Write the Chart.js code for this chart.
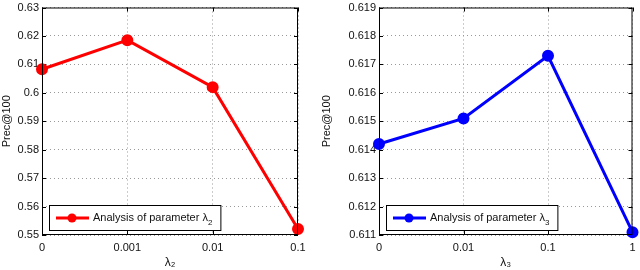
<!DOCTYPE html>
<html>
<head>
<meta charset="utf-8">
<script src="https://cdn.jsdelivr.net/npm/chart.js@4"></script>
<style>
  html, body { margin: 0; padding: 0; background: #fff; }
  .wrap { position: absolute; top: 0; width: 320px; height: 270px; }
</style>
</head>
<body>
<div class="wrap" style="left:0"><canvas id="chartL2"></canvas></div>
<div class="wrap" style="left:320px"><canvas id="chartL3"></canvas></div>
<script>
// λ2 sweep
const lambda2Labels = ["0", "0.001", "0.01", "0.1"];
const lambda2Prec = [0.6083, 0.6185, 0.6020, 0.5521];
// λ3 sweep
const lambda3Labels = ["0", "0.01", "0.1", "1"];
const lambda3Prec = [0.6142, 0.6151, 0.6173, 0.6111];

const FONT = "'Liberation Sans', Arial, sans-serif";

// matlab-style frame, inward ticks + legend inside the plot
const framePlugin = {
  id: "frame",
  beforeDatasetsDraw(chart) {
    const ctx = chart.ctx, a = chart.chartArea;
    const xs = chart.scales.x, ys = chart.scales.y;
    ctx.save();
    ctx.strokeStyle = "#000";
    ctx.lineWidth = 1;
    ctx.beginPath();
    xs.ticks.forEach((t, i) => {
      const px = Math.round(xs.getPixelForTick(i)) + 0.5;
      ctx.moveTo(px, a.bottom); ctx.lineTo(px, a.bottom - 4);
      ctx.moveTo(px, a.top); ctx.lineTo(px, a.top + 4);
    });
    ys.ticks.forEach((t, i) => {
      const py = Math.round(ys.getPixelForTick(i)) + 0.5;
      ctx.moveTo(a.left, py); ctx.lineTo(a.left + 4, py);
      ctx.moveTo(a.right, py); ctx.lineTo(a.right - 4, py);
    });
    ctx.stroke();
    ctx.restore();
  },
  afterDraw(chart, args, opts) {
    const ctx = chart.ctx, a = chart.chartArea;
    ctx.save();
    ctx.strokeStyle = "#000";
    ctx.lineWidth = 1;
    ctx.strokeRect(a.left + 0.5, a.top + 0.5, a.right - a.left - 1, a.bottom - a.top - 1);

    // legend box
    const x = a.left + opts.dx, y = a.bottom - 30, h = 25;
    ctx.font = "11px " + FONT;
    const main = "Analysis of parameter \u03bb";
    const w1 = ctx.measureText(main).width;
    ctx.font = "8px " + FONT;
    const w2 = ctx.measureText(opts.sub).width;
    const w = 44 + w1 + w2 + 8;
    ctx.fillStyle = "#fff";
    ctx.fillRect(x, y, w, h);
    ctx.strokeRect(x + 0.5, y + 0.5, w, h);
    const cy = y + h / 2 + 0.5;
    ctx.strokeStyle = opts.color;
    ctx.lineWidth = 3;
    ctx.beginPath();
    ctx.moveTo(x + 7, cy);
    ctx.lineTo(x + 40, cy);
    ctx.stroke();
    ctx.fillStyle = opts.color;
    ctx.beginPath();
    ctx.arc(x + 23, cy, 4.5, 0, Math.PI * 2);
    ctx.fill();
    ctx.fillStyle = "#111";
    ctx.textBaseline = "middle";
    ctx.font = "11px " + FONT;
    ctx.fillText(main, x + 44, cy);
    ctx.font = "8px " + FONT;
    ctx.fillText(opts.sub, x + 44 + w1, cy + 5);
    ctx.restore();
  }
};

function makeChart(id, labels, values, color, sub, yMin, yMax, step, leftW, rightPad) {
  return new Chart(document.getElementById(id), {
    type: "line",
    data: {
      labels: labels,
      datasets: [{
        data: values,
        borderColor: color,
        backgroundColor: color,
        borderWidth: 3,
        pointRadius: 4.5,
        pointHoverRadius: 4.5,
        tension: 0,
        clip: false
      }]
    },
    options: {
      responsive: false,
      animation: false,
      layout: { padding: { top: 3, right: rightPad, left: 0, bottom: 0 } },
      plugins: {
        legend: { display: false },
        tooltip: { enabled: false },
        frame: { color: color, sub: sub, dx: 7 }
      },
      scales: {
        x: {
          grid: { color: "#999", drawTicks: false },
          border: { display: false, dash: [1, 3] },
          ticks: { color: "#111", font: { size: 11, family: FONT }, padding: 6, maxRotation: 0 },
          title: { display: true, text: "\u03bb" + (sub === "2" ? "\u2082" : "\u2083"), color: "#111", font: { size: 12, family: FONT }, padding: { top: 0, bottom: 0 } },
          afterFit(s) { s.height = 35; s.paddingLeft = 0; s.paddingRight = 0; }
        },
        y: {
          min: yMin,
          max: yMax,
          grid: { color: "#999", drawTicks: false },
          border: { display: false, dash: [1, 3] },
          ticks: {
            stepSize: step,
            color: "#111",
            font: { size: 11, family: FONT },
            padding: 3,
            callback: v => String(Number(v.toFixed(3)))
          },
          title: { display: true, text: "Prec@100", color: "#111", font: { size: 11, family: FONT }, padding: { top: 0, bottom: 2 } },
          afterFit(s) { s.width = leftW; s.paddingTop = 0; s.paddingBottom = 0; }
        }
      }
    },
    plugins: [framePlugin]
  });
}

function sizeCanvas(id) {
  const c = document.getElementById(id);
  c.width = 320; c.height = 270;
  c.style.width = "320px"; c.style.height = "270px";
}
sizeCanvas("chartL2");
sizeCanvas("chartL3");

makeChart("chartL2", lambda2Labels, lambda2Prec, "#ff0000", "2", 0.55, 0.63, 0.01, 42, 22);
makeChart("chartL3", lambda3Labels, lambda3Prec, "#0000ff", "3", 0.611, 0.619, 0.001, 59, 7);
</script>
</body>
</html>
